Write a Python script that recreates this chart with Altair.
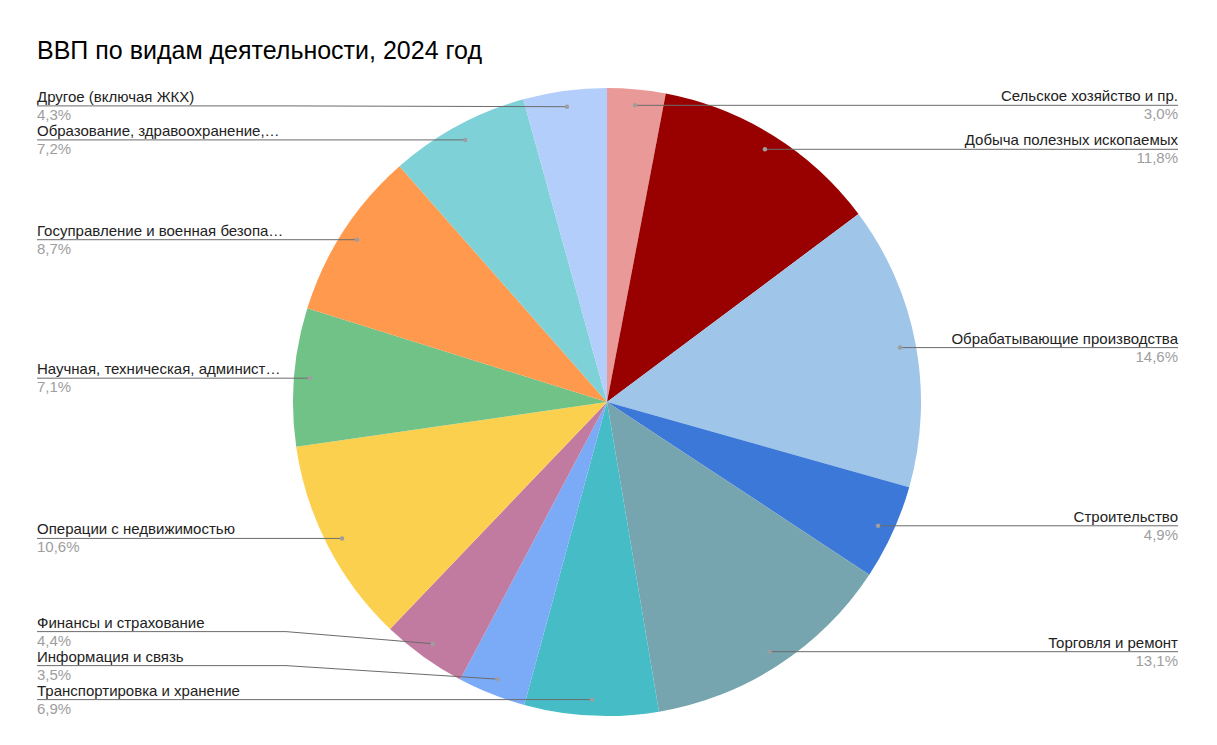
import math
import altair as alt
import pandas as pd

# ---------------- data ----------------
title_text = "ВВП по видам деятельности, 2024 год"
categories = [
    "Сельское хозяйство и пр.",
    "Добыча полезных ископаемых",
    "Обрабатывающие производства",
    "Строительство",
    "Торговля и ремонт",
    "Транспортировка и хранение",
    "Информация и связь",
    "Финансы и страхование",
    "Операции с недвижимостью",
    "Научная, техническая, админист…",
    "Госуправление и военная безопа…",
    "Образование, здравоохранение,…",
    "Другое (включая ЖКХ)",
]
values = [3.0, 11.8, 14.6, 4.9, 13.1, 6.9, 3.5, 4.4, 10.6, 7.1, 8.7, 7.2, 4.3]
colors = [
    "#ea9999", "#990000", "#9fc5e8", "#3c78d8", "#76a5af", "#46bdc6", "#7baaf7",
    "#c27ba0", "#fcd04f", "#71c287", "#ff994d", "#7ed1d7", "#b3cefb",
]

# ---------------- layout (page pixel coordinates) ----------------
PAGE_W, PAGE_H = 1217, 745
W, H = 1201, 725
CX, CY, R = 607, 402, 314
DOT_R = 298
LEFT_X, RIGHT_X = 37, 1178
KNEE_L, KNEE_R = 286, 929
GAP = 34
FONT = "Arial, 'Liberation Sans', sans-serif"

xs = alt.Scale(domain=[0, PAGE_W], range=[-8, PAGE_W - 8])
ys = alt.Scale(domain=[0, PAGE_H], range=[-8, PAGE_H - 8])

total = sum(values)
rows = []
cum = 0.0
for i, (c, v) in enumerate(zip(categories, values)):
    mid = (cum + v / 2) / total * 2 * math.pi
    cum += v
    dx = CX + DOT_R * math.sin(mid)
    dy = CY - DOT_R * math.cos(mid)
    side = "right" if mid < math.pi else "left"
    rows.append(dict(idx=i, category=c, value=v, cx=CX, cy=CY,
                     dot_x=dx, dot_y=dy, side=side,
                     pct=f"{v:.1f}".replace(".", ",") + "%"))

# label placement with collision avoidance (bottom-up)
for side in ("left", "right"):
    grp = sorted([r for r in rows if r["side"] == side], key=lambda r: -r["dot_y"])
    prev = None
    for r in grp:
        ly = r["dot_y"] if prev is None else min(r["dot_y"], prev - GAP)
        r["ly"] = ly
        prev = ly
for r in rows:
    r["label_x"] = RIGHT_X if r["side"] == "right" else LEFT_X
    r["knee_x"] = KNEE_R if r["side"] == "right" else KNEE_L

df = pd.DataFrame(rows)

line_rows = []
for r in rows:
    line_rows.append(dict(category=r["category"], pt=0, x=r["label_x"], y=r["ly"]))
    line_rows.append(dict(category=r["category"], pt=1, x=r["knee_x"], y=r["ly"]))
    line_rows.append(dict(category=r["category"], pt=2, x=r["dot_x"], y=r["dot_y"]))
df_lines = pd.DataFrame(line_rows)

df_title = pd.DataFrame([dict(x=37, y=59, t=title_text)])

# ---------------- chart ----------------
base = alt.Chart(df)

pie = base.mark_arc(radius=R).encode(
    x=alt.X("cx:Q", scale=xs, axis=None),
    y=alt.Y("cy:Q", scale=ys, axis=None),
    theta=alt.Theta("value:Q", stack=True),
    color=alt.Color("category:N", scale=alt.Scale(domain=categories, range=colors), legend=None),
    order=alt.Order("idx:Q"),
)

lines = alt.Chart(df_lines).mark_line(color="#6b6b6b", strokeWidth=1).encode(
    x=alt.X("x:Q", scale=xs, axis=None),
    y=alt.Y("y:Q", scale=ys, axis=None),
    detail="category:N",
    order=alt.Order("pt:Q"),
)

dots = base.mark_circle(size=20, color="#9e9e9e", opacity=1).encode(
    x=alt.X("dot_x:Q", scale=xs, axis=None),
    y=alt.Y("dot_y:Q", scale=ys, axis=None),
)

def label_layer(side, field, color, dy):
    return base.transform_filter(alt.datum.side == side).mark_text(
        align="left" if side == "left" else "right",
        baseline="alphabetic", dy=dy, fontSize=15, font=FONT, color=color,
    ).encode(
        x=alt.X("label_x:Q", scale=xs, axis=None),
        y=alt.Y("ly:Q", scale=ys, axis=None),
        text=f"{field}:N",
    )

names_l = label_layer("left", "category", "#222222", -4)
names_r = label_layer("right", "category", "#222222", -4)
pct_l = label_layer("left", "pct", "#9e9e9e", 14)
pct_r = label_layer("right", "pct", "#9e9e9e", 14)

title = alt.Chart(df_title).mark_text(
    align="left", baseline="alphabetic", fontSize=25, font=FONT, color="#000000"
).encode(
    x=alt.X("x:Q", scale=xs, axis=None),
    y=alt.Y("y:Q", scale=ys, axis=None),
    text="t:N",
)

chart = alt.layer(pie, lines, dots, names_l, names_r, pct_l, pct_r, title).properties(
    width=W, height=H, autosize="none", padding=0, background="white"
).configure_view(stroke=None)

chart.save("out.html", embed_options={"renderer": "svg", "actions": False})
